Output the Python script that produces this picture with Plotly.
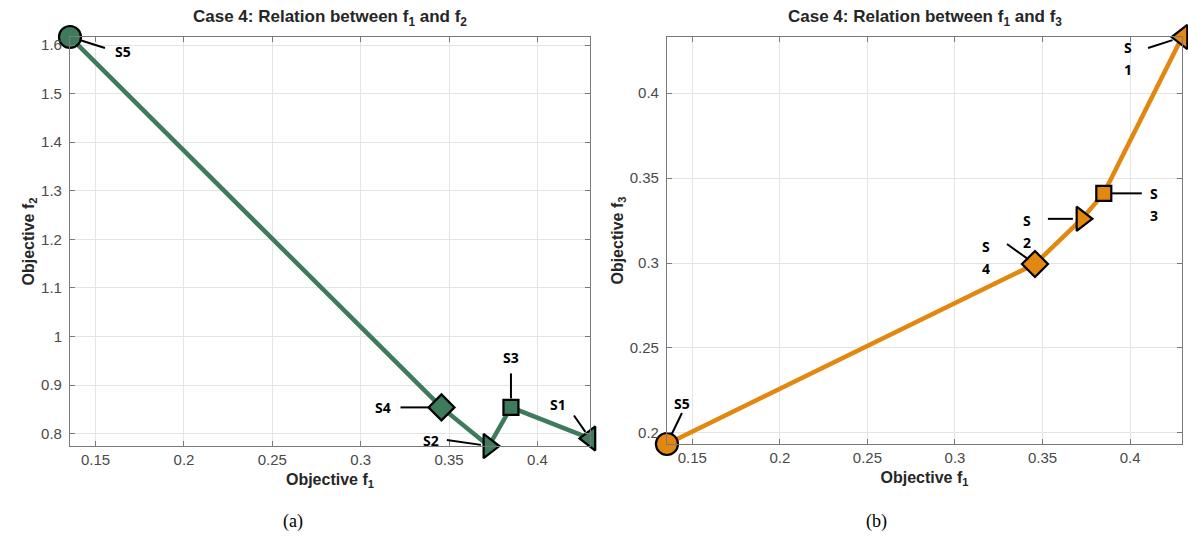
import math
import plotly.graph_objects as go

# Solutions S1..S5 and their objective values
solutions = ["S1", "S2", "S3", "S4", "S5"]
f1 = [0.4297, 0.3725, 0.385, 0.3457, 0.1355]
f2 = [0.790, 0.7745, 0.854, 0.854, 1.6165]
f3 = [0.433, 0.326, 0.341, 0.2994, 0.1935]
symbols = ["triangle-left", "triangle-right", "square", "diamond", "circle"]
sizes = [21, 21, 15, 20, 22]

x_tick_vals = [0.15, 0.2, 0.25, 0.3, 0.35, 0.4]
x_tick_text = ["0.15", "0.2", "0.25", "0.3", "0.35", "0.4"]
y2_tick_vals = [0.8, 0.9, 1.0, 1.1, 1.2, 1.3, 1.4, 1.5, 1.6]
y2_tick_text = ["0.8", "0.9", "1", "1.1", "1.2", "1.3", "1.4", "1.5", "1.6"]
y3_tick_vals = [0.2, 0.25, 0.3, 0.35, 0.4]
y3_tick_text = ["0.2", "0.25", "0.3", "0.35", "0.4"]

GREEN = "#3e7a5c"
ORANGE = "#e2870f"

# leader line end (dx, dy, gap from marker) and label offset (dx, dy), pixels, y up;
# wrapped labels give one line per entry
labels_a = {
    "S1": (-16, 23, 8, -32, 34, ["S1"]),
    "S2": (-42, 6, 8, -58, 6, ["S2"]),
    "S3": (0, 34, 9, 0, 50, ["S3"]),
    "S4": (-41, 0, 11, -58, 0, ["S4"]),
    "S5": (35, -11, 11, 53, -14, ["S5"]),
}
labels_b = {
    "S1": (-34, -11, 10, -54, -10, ["S", "1"]),
    "S2": (-34, 0, 9, -55, -2, ["S", "2"]),
    "S3": (38, 0, 8, 50, 0, ["S", "3"]),
    "S4": (-28, 20, 8, -49, 18, ["S", "4"]),
    "S5": (15, 31, 10, 15, 41, ["S5"]),
}
LINE_STEP = 22

order = sorted(range(len(f1)), key=lambda i: f1[i])

fig = go.Figure()


def add_panel(ys, color, xa, ya):
    fig.add_trace(go.Scatter(
        x=[f1[i] for i in order], y=[ys[i] for i in order],
        mode="lines", line=dict(color=color, width=4.5),
        xaxis=xa, yaxis=ya, hoverinfo="skip", showlegend=False,
        cliponaxis=False))
    fig.add_trace(go.Scatter(
        x=f1, y=ys, mode="markers", name="", opacity=1,
        marker=dict(symbol=symbols, size=sizes, color=color, opacity=1,
                    line=dict(color="black", width=2.2)),
        xaxis=xa, yaxis=ya, showlegend=False, cliponaxis=False))


add_panel(f2, GREEN, "x", "y")
add_panel(f3, ORANGE, "x2", "y2")

label_font = dict(family="Open Sans", size=14, color="black")
for labels, ys, xr, yr in [(labels_a, f2, "x", "y"), (labels_b, f3, "x2", "y2")]:
    for i, s in enumerate(solutions):
        lx, ly, gap, tx, ty, lines = labels[s]
        n = math.hypot(lx, ly)
        # leader line anchored at the data point, sized in pixels
        fig.add_shape(type="line", xref=xr, yref=yr,
                      xsizemode="pixel", ysizemode="pixel",
                      xanchor=f1[i], yanchor=ys[i],
                      x0=lx * gap / n, y0=ly * gap / n, x1=lx, y1=ly,
                      line=dict(color="black", width=2))
        for k, part in enumerate(lines):
            fig.add_annotation(x=f1[i], y=ys[i], xref=xr, yref=yr,
                               text="<b>%s</b>" % part, showarrow=False,
                               xshift=tx, yshift=ty - k * LINE_STEP,
                               font=label_font)

axis_common = dict(
    showline=True, linecolor="#7a7a7a", linewidth=1, mirror="ticks",
    ticks="inside", ticklen=5, tickcolor="#7a7a7a",
    showgrid=True, gridcolor="#e4e4e4", gridwidth=1, zeroline=False,
    tickfont=dict(family="Liberation Sans", size=15, color="#4a4a4a"),
)
title_font = dict(family="Liberation Sans", size=16, color="#262626")

xr = [min(f1), max(f1)]
fig.update_layout(
    width=1188, height=542,
    margin=dict(l=0, r=0, t=0, b=0),
    paper_bgcolor="white", plot_bgcolor="white",
    xaxis=dict(domain=[0.0589, 0.4966], range=xr, tickvals=x_tick_vals,
               ticktext=x_tick_text, anchor="y",
               title=dict(text="<b>Objective f<sub>1</sub></b>", font=title_font, standoff=6),
               **axis_common),
    yaxis=dict(domain=[0.1771, 0.9317], range=[min(f2), max(f2)],
               tickvals=y2_tick_vals, ticktext=y2_tick_text, anchor="x",
               ticklabelstandoff=4,
               title=dict(text="<b>Objective f<sub>2</sub></b>", font=title_font, standoff=2),
               **axis_common),
    xaxis2=dict(domain=[0.5614, 0.995], range=xr, tickvals=x_tick_vals,
                ticktext=x_tick_text, anchor="y2",
                title=dict(text="<b>Objective f<sub>1</sub></b>", font=title_font, standoff=6),
                **axis_common),
    yaxis2=dict(domain=[0.1808, 0.9317], range=[min(f3), max(f3)],
                tickvals=y3_tick_vals, ticktext=y3_tick_text, anchor="x2",
                ticklabelstandoff=4,
                title=dict(text="<b>Objective f<sub>3</sub></b>", font=title_font, standoff=2),
                **axis_common),
)

# panel titles and captions
for xc, t in [(0.2778, "f<sub>2</sub>"), (0.7782, "f<sub>3</sub>")]:
    fig.add_annotation(xref="paper", yref="paper", x=xc, y=0.966,
                       xanchor="center", yanchor="middle",
                       text="<b>Case 4: Relation between f<sub>1</sub> and %s</b>" % t,
                       showarrow=False,
                       font=dict(family="Liberation Sans", size=17, color="#262626"))
for xc, t in [(0.2466, "(a)"), (0.7374, "(b)")]:
    fig.add_annotation(xref="paper", yref="paper", x=xc, y=0.037,
                       xanchor="center", yanchor="middle",
                       text=t, showarrow=False,
                       font=dict(family="Liberation Serif", size=18, color="black"))

fig.write_html("out.html")
